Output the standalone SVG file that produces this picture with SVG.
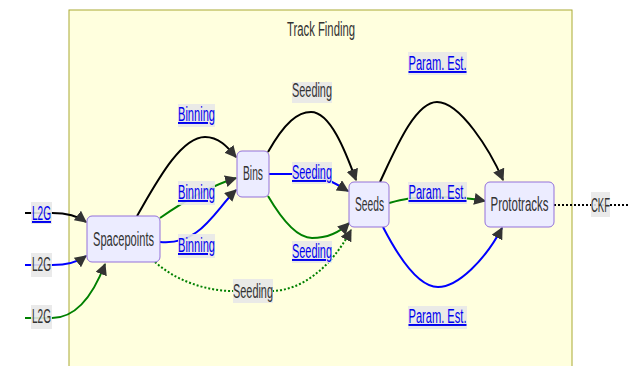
<svg xmlns="http://www.w3.org/2000/svg" width="630" height="366" viewBox="0 0 630 366">
  <style>
    .cluster { fill: #ffffde; stroke: #aaaa33; stroke-width: 1; }
    .node rect { fill: #ececff; stroke: #9370db; stroke-width: 1; }
    text { font-family: "Liberation Sans", Arial, sans-serif; font-size: 19.5px; fill: #333333; text-anchor: middle; }
    .lbl rect { fill: #e8e8e8; opacity: 0.9; }
    .link { fill: #0000ee; text-decoration: underline; }
    .edge { fill: none; stroke-width: 2; }
    .k { stroke: #000000; }
    .b { stroke: #0000ff; }
    .g { stroke: #008000; }
    .dot { stroke-dasharray: 2 2; }
  </style>
  <defs>
    <marker id="arrow" viewBox="0 0 10 10" refX="9" refY="5" markerWidth="6" markerHeight="6" orient="auto" markerUnits="strokeWidth">
      <path d="M0,0 L10,5 L0,10 z" fill="#333333"/>
    </marker>
  </defs>

  <!-- subgraph -->
  <g id="track-finding">
    <rect class="cluster" x="69" y="10" width="503" height="370"/>
    <text x="321" y="36" textLength="68" lengthAdjust="spacingAndGlyphs">Track Finding</text>
  </g>

  <!-- connectors -->
  <g id="edges">
    <path class="edge k" d="M25,213 L52,213 C68,213 78,216 86,222" marker-end="url(#arrow)"/>
    <path class="edge b" d="M25,265 L52,265 C68,265 78,262 86,256" marker-end="url(#arrow)"/>
    <path class="edge g" d="M25,318 L52,318 C75,318 92,298 105,264" marker-end="url(#arrow)"/>

    <path class="edge k" d="M137,216 C155,185 180,137 205,137 C220,137 229,149 236,157" marker-end="url(#arrow)"/>
    <path class="edge g" d="M160,218 C180,204 210,186 236,178" marker-end="url(#arrow)"/>
    <path class="edge b" d="M160,242 C200,246 215,210 236,190" marker-end="url(#arrow)"/>

    <path class="edge k" d="M268,152 C285,122 298,112 311,112 C330,112 345,150 356,180" marker-end="url(#arrow)"/>
    <path class="edge b" d="M269,174 L300,174 C320,174 335,183 348,191" marker-end="url(#arrow)"/>
    <path class="edge g" d="M268,196 C285,225 300,238 312,238 C328,238 340,232 349,223" marker-end="url(#arrow)"/>
    <path class="edge g dot" d="M155,262 C175,280 205,291 233,291 L273,291 C300,290 330,270 351,230" marker-end="url(#arrow)"/>

    <path class="edge k" d="M380,182 C395,150 415,102 437,102 C460,102 490,150 503,180" marker-end="url(#arrow)"/>
    <path class="edge g" d="M389,203 C400,200 410,197 437,197 C460,197 475,199 485,201" marker-end="url(#arrow)"/>
    <path class="edge b" d="M383,227 C400,260 420,287 438,287 C458,287 485,260 502,228" marker-end="url(#arrow)"/>

    <path class="edge k dot" d="M554,205 L630,205"/>
  </g>

  <!-- edge labels -->
  <g id="edge-labels">
    <g class="lbl"><rect x="31" y="202" width="21" height="22"/><text class="link" x="41.5" y="220" textLength="19" lengthAdjust="spacingAndGlyphs">L2G</text></g>
    <g class="lbl"><rect x="31" y="253" width="21" height="24"/><text x="41.5" y="271" textLength="19" lengthAdjust="spacingAndGlyphs">L2G</text></g>
    <g class="lbl"><rect x="31" y="305" width="21" height="24"/><text x="41.5" y="323" textLength="19" lengthAdjust="spacingAndGlyphs">L2G</text></g>

    <g class="lbl"><rect x="178" y="104" width="37" height="23"/><text class="link" x="196.5" y="121" textLength="37" lengthAdjust="spacingAndGlyphs">Binning</text></g>
    <g class="lbl"><rect x="178" y="181" width="37" height="24"/><text class="link" x="196.5" y="199" textLength="37" lengthAdjust="spacingAndGlyphs">Binning</text></g>
    <g class="lbl"><rect x="178" y="234" width="37" height="24"/><text class="link" x="196.5" y="252" textLength="37" lengthAdjust="spacingAndGlyphs">Binning</text></g>

    <g class="lbl"><rect x="292" y="82" width="40" height="21"/><text x="312" y="97" textLength="40" lengthAdjust="spacingAndGlyphs">Seeding</text></g>
    <g class="lbl"><rect x="292" y="162" width="40" height="22"/><text class="link" x="312" y="179" textLength="40" lengthAdjust="spacingAndGlyphs">Seeding</text></g>
    <g class="lbl"><rect x="292" y="241" width="40" height="22"/><text class="link" x="312" y="258" textLength="40" lengthAdjust="spacingAndGlyphs">Seeding</text></g>
    <g class="lbl"><rect x="233" y="279" width="40" height="24"/><text x="253" y="298" textLength="40" lengthAdjust="spacingAndGlyphs">Seeding</text></g>

    <g class="lbl"><rect x="408" y="52" width="59" height="23"/><text class="link" x="437.5" y="70" textLength="58" lengthAdjust="spacingAndGlyphs">Param. Est.</text></g>
    <g class="lbl"><rect x="408" y="182" width="59" height="22"/><text class="link" x="437.5" y="199" textLength="58" lengthAdjust="spacingAndGlyphs">Param. Est.</text></g>
    <g class="lbl"><rect x="408" y="306" width="59" height="23"/><text class="link" x="437.5" y="323" textLength="58" lengthAdjust="spacingAndGlyphs">Param. Est.</text></g>

    <g class="lbl"><rect x="591" y="192" width="19" height="25"/><text x="600.5" y="212" textLength="19" lengthAdjust="spacingAndGlyphs">CKF</text></g>
  </g>

  <!-- nodes -->
  <g id="spacepoints" class="node">
    <rect x="87" y="216" width="73" height="46" rx="5"/>
    <text x="123.5" y="246" textLength="61" lengthAdjust="spacingAndGlyphs">Spacepoints</text>
  </g>
  <g id="bins" class="node">
    <rect x="237" y="151" width="32" height="46" rx="5"/>
    <text x="253" y="180" textLength="20" lengthAdjust="spacingAndGlyphs">Bins</text>
  </g>
  <g id="seeds" class="node">
    <rect x="349" y="182" width="40" height="45" rx="5"/>
    <text x="369.5" y="211" textLength="29" lengthAdjust="spacingAndGlyphs">Seeds</text>
  </g>
  <g id="prototracks" class="node">
    <rect x="485" y="182" width="69" height="45" rx="5"/>
    <text x="519.5" y="211" textLength="58" lengthAdjust="spacingAndGlyphs">Prototracks</text>
  </g>
</svg>
